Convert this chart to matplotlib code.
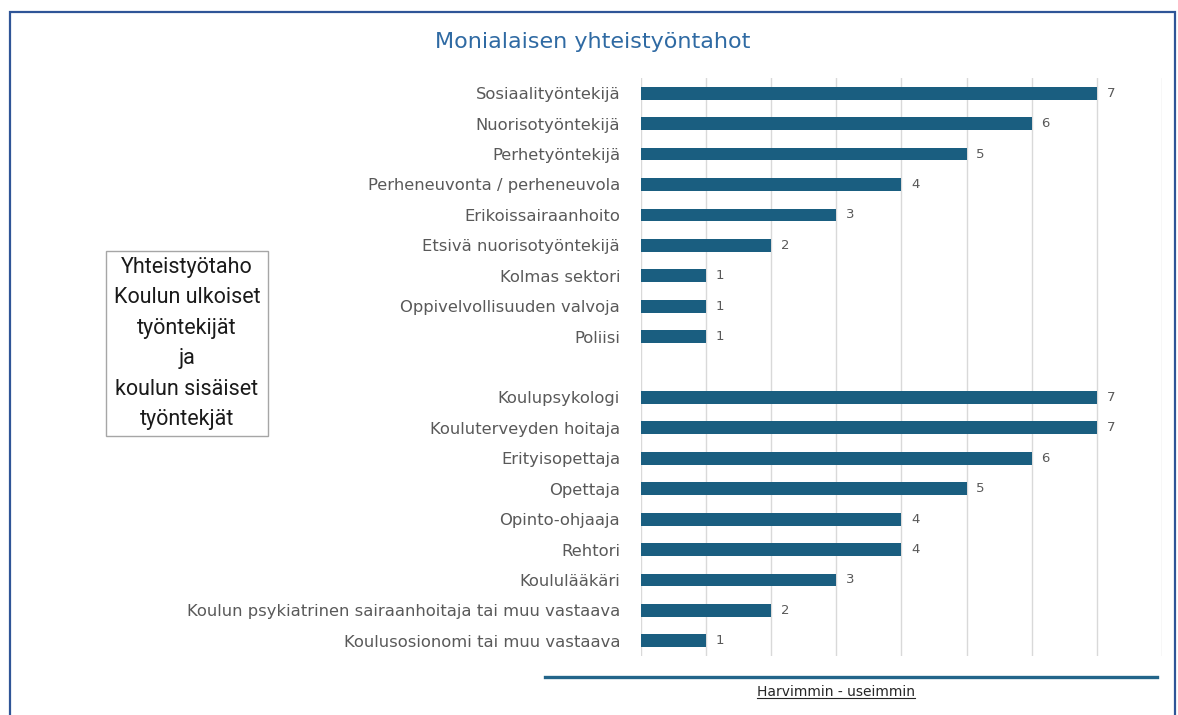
import numpy as np
import matplotlib
matplotlib.use("Agg")
import matplotlib.pyplot as plt
from matplotlib.patches import Rectangle
from matplotlib.lines import Line2D

# ulkoiset ja sisaiset tyontekijat, tyhja rivi valissa
ulkoiset = ["Sosiaalityöntekijä", "Nuorisotyöntekijä", "Perhetyöntekijä",
            "Perheneuvonta / perheneuvola", "Erikoissairaanhoito",
            "Etsivä nuorisotyöntekijä", "Kolmas sektori",
            "Oppivelvollisuuden valvoja", "Poliisi"]
ulkoiset_arvot = [7, 6, 5, 4, 3, 2, 1, 1, 1]

sisaiset = ["Koulupsykologi", "Kouluterveyden hoitaja", "Erityisopettaja",
            "Opettaja", "Opinto-ohjaaja", "Rehtori", "Koululääkäri",
            "Koulun psykiatrinen sairaanhoitaja tai muu vastaava",
            "Koulusosionomi tai muu vastaava"]
sisaiset_arvot = [7, 7, 6, 5, 4, 4, 3, 2, 1]

otsikko = "Monialaisen yhteistyöntahot"
laatikko = "Yhteistyötaho\nKoulun ulkoiset\ntyöntekijät\nja\nkoulun sisäiset\ntyöntekjät"
akseli = "Harvimmin - useimmin"

nimet = ulkoiset + [""] + sisaiset
arvot = ulkoiset_arvot + [None] + sisaiset_arvot

palkki = "#1a5e80"
harmaa = "#595959"

fig = plt.figure(figsize=(11.78, 7.15), dpi=100)
ax = fig.add_axes([0.5441, 0.0825, 0.4423, 0.8084])

y = np.arange(len(nimet))
for i, v in enumerate(arvot):
    if v is None:
        continue
    ax.barh(y[i], v, height=0.42, color=palkki, zorder=3)
    ax.text(v + 0.15, y[i], str(v), va="center", ha="left",
            fontsize=9.5, color=harmaa)

ax.set_xlim(0, 8)
ax.set_ylim(len(nimet) - 0.5, -0.5)
ax.set_yticks(y)
ax.set_yticklabels(nimet, fontsize=11.8, color=harmaa)
ax.tick_params(axis="y", length=0, pad=15)
ax.set_xticks(np.arange(0, 9))
ax.tick_params(axis="x", length=0, labelbottom=False)
ax.grid(axis="x", color="#d9d9d9", linewidth=1, zorder=0)
for s in ax.spines.values():
    s.set_visible(False)

fig.text(0.503, 0.941, otsikko, ha="center", va="center",
         fontsize=16, color="#2f6aa3")

fig.text(0.1587, 1 - 343.5 / 715, laatikko, ha="center", va="center",
         fontsize=15.5, family=["Roboto", "DejaVu Sans"],
         color="#1a1a1a", linespacing=1.59)
fig.patches.append(Rectangle((106 / 1178, 1 - 436 / 715), 162 / 1178, 185 / 715,
                             transform=fig.transFigure, fill=False,
                             edgecolor="#a6a6a6", linewidth=1))

# vaakaviiva ja akselin nimi
fig.lines.append(Line2D([545 / 1178, 1157 / 1178], [1 - 677 / 715] * 2,
                        transform=fig.transFigure, color="#23658a", linewidth=2.4))
t = fig.text(0.7097, 1 - 692 / 715, akseli, ha="center", va="center",
             fontsize=10, color="#262626")
fig.canvas.draw()
bb = t.get_window_extent().transformed(fig.transFigure.inverted())
fig.lines.append(Line2D([bb.x0, bb.x1], [bb.y0 + 0.002] * 2,
                        transform=fig.transFigure, color="#262626", linewidth=0.8))

# kehys
fig.patches.append(Rectangle((10 / 1178, -0.05), 1165 / 1178, 1.05 - 12 / 715,
                             transform=fig.transFigure, fill=False,
                             edgecolor="#2f5597", linewidth=1.6))

fig.savefig("out.png", dpi=100, facecolor="white")
